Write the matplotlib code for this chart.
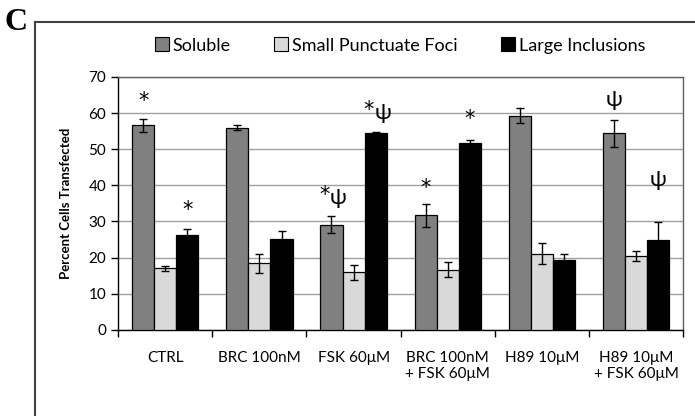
import numpy as np
import matplotlib
matplotlib.use("Agg")
import matplotlib.pyplot as plt
from matplotlib.lines import Line2D

plt.rcParams['font.family'] = ['Lato', 'DejaVu Sans']

categories = ["CTRL", "BRC 100nM", "FSK 60μM", "BRC 100nM\n+ FSK 60μM", "H89 10μM", "H89 10μM\n+ FSK 60μM"]
series_names = ["Soluble", "Small Punctuate Foci", "Large Inclusions"]
soluble = [56.7, 56.0, 29.1, 31.7, 59.3, 54.4]
soluble_err = [1.8, 0.7, 2.3, 3.2, 2.0, 3.8]
small = [17.0, 18.4, 15.9, 16.7, 21.1, 20.5]
small_err = [0.8, 2.7, 2.0, 2.0, 3.0, 1.3]
large = [26.3, 25.2, 54.5, 51.6, 19.4, 24.9]
large_err = [1.5, 2.2, 0.3, 1.0, 1.5, 5.0]
# annotations: (category index, series index, text, y value)
annotations = [
    (0, 0, "*", 62.5), (0, 2, "*", 32.5),
    (2, 0, "*ψ", 36.5), (2, 2, "*ψ", 60.0),
    (3, 0, "*", 38.5), (3, 2, "*", 57.5),
    (5, 0, "ψ", 63.5), (5, 2, "ψ", 41.5),
]
colors = ["#808080", "#d9d9d9", "#000000"]

fig = plt.figure(figsize=(6.95, 4.16), dpi=100)
ax = fig.add_axes([0.170, 0.207, 0.813, 0.608])

n = len(categories)
x = np.arange(n)
w = 0.235
data = [soluble, small, large]
errs = [soluble_err, small_err, large_err]
offsets = [-w, 0, w]
for i in range(3):
    ax.bar(x + offsets[i], data[i], w, color=colors[i], edgecolor="black", linewidth=0.9, zorder=3)
    ax.errorbar(x + offsets[i], data[i], yerr=errs[i], fmt="none", ecolor="black",
                elinewidth=1.0, capsize=3, capthick=1.0, zorder=4)


def draw_mark(xv, yv, ch, dx):
    if ch == "*":
        ax.annotate("*", (xv, yv), xytext=(dx, 2), textcoords="offset points", ha="center",
                    va="center", fontsize=15, family=["DejaVu Sans"], zorder=5)
    else:
        ax.annotate("ψ", (xv, yv), xytext=(dx, 0), textcoords="offset points", ha="center",
                    va="center", fontsize=16, family=["Lato"], zorder=5)


for ci, si, txt, yv in annotations:
    xv = x[ci] + offsets[si]
    if len(txt) == 2:
        draw_mark(xv, yv, txt[0], -5)
        draw_mark(xv, yv, txt[1], 5)
    else:
        draw_mark(xv, yv, txt, 0)

ax.set_xlim(-0.5, n - 0.5)
ax.set_ylim(0, 70)
ax.set_yticks(np.arange(0, 71, 10))
ax.yaxis.grid(True, color="#a0a0a0", linewidth=1.0, zorder=0)
ax.set_axisbelow(True)
ax.set_xticks(x)
ax.set_xticklabels(categories, fontsize=11)
ax.tick_params(axis="x", length=0, pad=15)
ax.set_xticks(np.arange(-0.5, n, 1), minor=True)
ax.tick_params(axis="x", which="minor", length=5, direction="out", width=1)
ax.tick_params(axis="y", length=5, direction="out", labelsize=11, width=1)
for s in ["left", "bottom", "top", "right"]:
    ax.spines[s].set_linewidth(1.0)
    ax.spines[s].set_color("black")
ax.spines["top"].set_color("#606060")
ax.spines["right"].set_color("#606060")
ax.set_ylabel("Percent Cells Transfected", fontsize=9.5, fontweight="bold", labelpad=12)

handles = [Line2D([0], [0], marker="s", linestyle="none", markersize=10,
                  markerfacecolor=c, markeredgecolor="black", markeredgewidth=0.8) for c in colors]
fig.legend(handles, series_names, loc="center", bbox_to_anchor=(0.574, 0.89), ncol=3,
           frameon=False, fontsize=13, handletextpad=0.1, columnspacing=2.3, handlelength=1.0)

# outer panel frame
fig.add_artist(Line2D([0.050, 1.0], [0.947, 0.947], transform=fig.transFigure, color="#404040", linewidth=1.5))
fig.add_artist(Line2D([0.050, 0.050], [0.947, 0.0], transform=fig.transFigure, color="#404040", linewidth=1.5))
fig.text(0.006, 0.945, "C", fontsize=23, fontweight="bold", family=["Liberation Serif", "DejaVu Serif"],
         ha="left", va="center")

fig.savefig("out.png", dpi=100)
